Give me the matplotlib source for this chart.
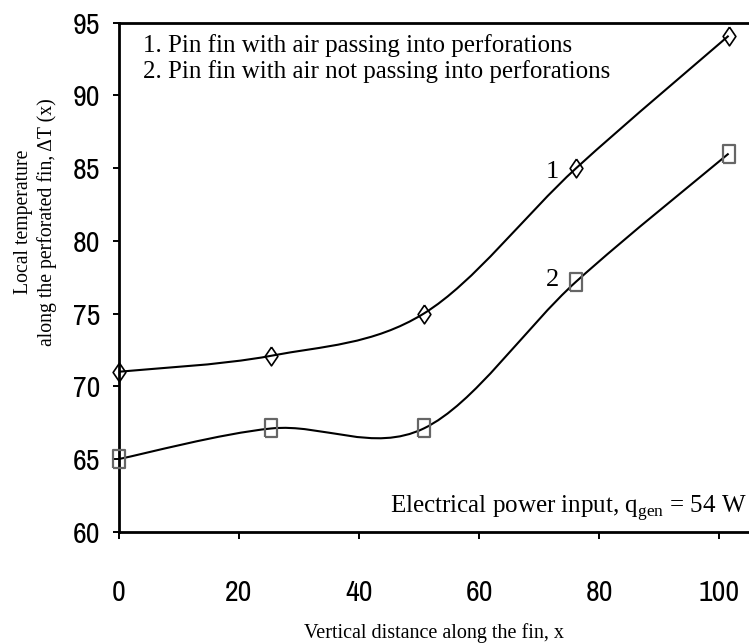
import matplotlib.pyplot as plt
from matplotlib import font_manager
from matplotlib.path import Path
from matplotlib.patches import PathPatch

plt.rcParams['mathtext.fontset'] = 'custom'
plt.rcParams['mathtext.rm'] = 'Liberation Serif'

x = [0, 25.4, 50.8, 76.2, 101.6]
y_passing = [71.0, 72.1, 75.0, 85.0, 94.1]
y_not_passing = [65.0, 67.1, 67.1, 77.2, 86.0]

xticks = [0, 20, 40, 60, 80, 100]
yticks = [60, 65, 70, 75, 80, 85, 90, 95]

serif = ['Liberation Serif', 'DejaVu Serif']

# look for a narrow / condensed sans for the tick numbers
narrow_name, narrow_stretch = 'DejaVu Sans', 'normal'
for f in font_manager.fontManager.ttflist:
    if 'Narrow' in f.name or 'Condensed' in f.name:
        narrow_name, narrow_stretch = f.name, 'normal'
        break
    if str(f.stretch) in ('condensed', 'semi-condensed', '500', '300') \
            and f.style == 'normal' and f.weight in (400, 'normal'):
        narrow_name, narrow_stretch = f.name, f.stretch


def smooth_path(xs, ys):
    # Excel-style smoothed line: cubic Bezier segments through the points
    pts = list(zip(xs, ys))
    n = len(pts)
    verts = [pts[0]]
    codes = [Path.MOVETO]
    for i in range(n - 1):
        p0 = pts[max(i - 1, 0)]
        p1 = pts[i]
        p2 = pts[i + 1]
        p3 = pts[min(i + 2, n - 1)]
        c1 = (p1[0] + (p2[0] - p0[0]) / 6, p1[1] + (p2[1] - p0[1]) / 6)
        c2 = (p2[0] - (p3[0] - p1[0]) / 6, p2[1] - (p3[1] - p1[1]) / 6)
        verts += [c1, c2, p2]
        codes += [Path.CURVE4] * 3
    return Path(verts, codes)


diamond = [(0, 1), (0.68, 0), (0, -1), (-0.68, 0), (0, 1)]
box = [(-0.65, -1), (0.65, -1), (0.65, 1), (-0.65, 1), (-0.65, -1)]

fig = plt.figure(figsize=(7.49, 6.43), dpi=100)
ax = fig.add_axes([0.1589, 0.1731, 0.8411, 0.7916])

for ys in (y_passing, y_not_passing):
    ax.add_patch(PathPatch(smooth_path(x, ys), facecolor='none',
                           edgecolor='black', lw=1.5, zorder=2))

ax.plot(x, y_passing, linestyle='none', marker=diamond, markersize=13.5,
        markerfacecolor='none', markeredgecolor='black', mew=1.2, zorder=3,
        clip_on=False)
ax.plot(x, y_not_passing, linestyle='none', marker=box, markersize=12.5,
        markerfacecolor='none', markeredgecolor='#666666', mew=1.6, zorder=3,
        clip_on=False)

ax.set_xlim(0, 105)
ax.set_ylim(60, 95)
ax.set_xticks(xticks)
ax.set_yticks(yticks)
ax.tick_params(axis='x', direction='out', length=5, width=1.4, pad=29)
ax.tick_params(axis='y', direction='out', length=4.5, width=1.4, pad=9)
for lbl in ax.get_xticklabels() + ax.get_yticklabels():
    lbl.set_family([narrow_name, 'DejaVu Sans'])
    lbl.set_stretch(narrow_stretch)
    lbl.set_fontsize(21.5)

ax.spines['right'].set_visible(False)
for s in ('left', 'bottom', 'top'):
    ax.spines[s].set_linewidth(2)

ax.text(0.038, 0.977, "1. Pin fin with air passing into perforations\n"
        "2. Pin fin with air not passing into perforations",
        transform=ax.transAxes, ha='left', va='top', fontsize=18,
        family=serif, linespacing=1.12)
ax.text(0.996, 0.037, r"Electrical power input, q$_{\mathrm{gen}}$ = 54 W",
        transform=ax.transAxes, ha='right', va='baseline', fontsize=18,
        family=serif)
ax.text(72.2, 84.7, "1", ha='center', va='center', fontsize=19, family=serif)
ax.text(72.2, 77.3, "2", ha='center', va='center', fontsize=19, family=serif)

fig.text(0.579, 0.015, "Vertical distance along the fin, x", ha='center',
         va='center', fontsize=14.5, family=serif)
fig.text(0.047, 0.655, "Local temperature\nalong the perforated fin, ΔT (x)",
         ha='center', va='center', rotation=90, fontsize=14.2, family=serif,
         linespacing=1.3)

fig.savefig("out.png", dpi=100)
